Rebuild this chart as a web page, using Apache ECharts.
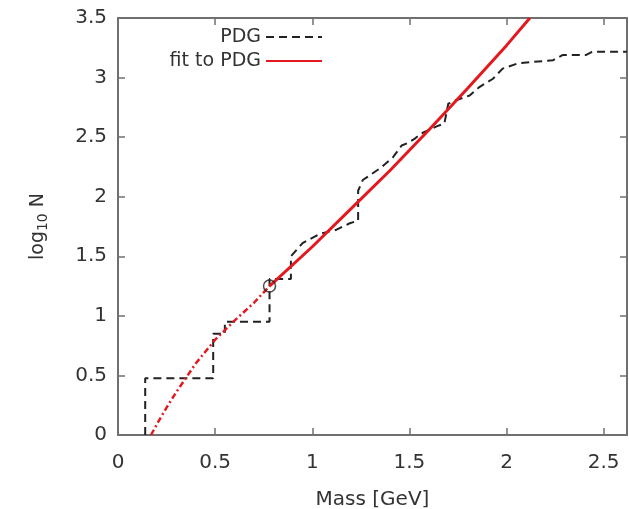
<!DOCTYPE html>
<html>
<head>
<meta charset="utf-8">
<title>log10 N vs Mass</title>
<script src="https://cdn.jsdelivr.net/npm/echarts@6.0.0/dist/echarts.min.js"></script>
<style>
    html, body { margin: 0; padding: 0; background: #fff; }
    #chart { width: 629px; height: 509px; }
</style>
</head>
<body>
<div id="chart"></div>
<script>
// PDG staircase (mass in GeV, log10 of cumulative number of states)
var pdgMass = [0.14, 0.14, 0.49, 0.49, 0.55, 0.55, 0.78, 0.78, 0.89, 0.89,
    0.95, 1.04, 1.12, 1.19, 1.236, 1.236, 1.26, 1.35, 1.415, 1.46,
    1.49, 1.53, 1.56, 1.64, 1.68, 1.70, 1.74, 1.81, 1.86, 1.93,
    1.98, 2.06, 2.24, 2.29, 2.41, 2.44, 2.62];
var pdgLogN = [0, 0.477, 0.477, 0.85, 0.85, 0.95, 0.95, 1.31, 1.31, 1.50,
    1.61, 1.69, 1.72, 1.775, 1.80, 2.05, 2.14, 2.24, 2.33, 2.43,
    2.45, 2.49, 2.53, 2.59, 2.615, 2.78, 2.81, 2.85, 2.92, 2.99,
    3.075, 3.12, 3.146, 3.19, 3.19, 3.216, 3.216];

// fit, fitted range (solid) and extrapolation below it (dash-dot)
var fitMass = [0.78, 1.0, 1.2, 1.4, 1.6, 1.8, 2.0, 2.12];
var fitLogN = [1.25, 1.58, 1.9, 2.22, 2.56, 2.91, 3.27, 3.5];
var fitLowMass = [0.17, 0.2, 0.25, 0.3, 0.35, 0.4, 0.5, 0.6, 0.7, 0.78];
var fitLowLogN = [0, 0.09, 0.23, 0.36, 0.48, 0.6, 0.8, 0.96, 1.11, 1.25];

// open circle marker
var markMass = [0.78];
var markLogN = [1.25];

var xTicks = [0, 2.62, 0.5];   // min, max, interval
var yTicks = [0, 3.5, 0.5];

function pairs(xs, ys) {
    var out = [];
    for (var i = 0; i < xs.length; i++) {
        out.push([xs[i], ys[i]]);
    }
    return out;
}

var FONT = 'DejaVu Sans';
var frameColor = '#707070';
var red = '#e3191f';

function frameAxis(pos, range, withLabels) {
    return {
        type: 'value',
        position: pos,
        min: range[0],
        max: range[1],
        interval: range[2],
        axisLine: {show: true, onZero: false, lineStyle: {color: frameColor, width: 2}},
        axisTick: {show: true, inside: true, length: 7, lineStyle: {color: frameColor, width: 1.5}},
        axisLabel: {
            show: withLabels,
            showMaxLabel: pos === 'bottom' ? false : true,
            fontFamily: FONT,
            fontSize: 20,
            color: '#333',
            margin: pos === 'bottom' ? 18 : 11
        },
        splitLine: {show: false}
    };
}

var chart = echarts.init(document.getElementById('chart'), null, {renderer: 'canvas'});

var xBottom = frameAxis('bottom', xTicks, true);
xBottom.name = 'Mass [GeV]';
xBottom.nameLocation = 'middle';
xBottom.nameGap = 55;
xBottom.nameTextStyle = {fontFamily: FONT, fontSize: 20, color: '#333'};

var yLeft = frameAxis('left', yTicks, true);
yLeft.name = '{a|log}{s|10}{a| N}';
yLeft.nameLocation = 'middle';
yLeft.nameGap = 68;
yLeft.nameTextStyle = {
    color: '#333',
    rich: {
        a: {fontFamily: FONT, fontSize: 19, color: '#333'},
        s: {fontFamily: FONT, fontSize: 14, color: '#333', padding: [10, 0, 0, 0]}
    }
};

var option = {
    animation: false,
    backgroundColor: '#fff',
    grid: {left: 118, right: 2, top: 18, bottom: 74, containLabel: false, outerBoundsMode: 'none'},
    legend: {
        orient: 'vertical',
        align: 'right',
        right: 306,
        top: 27,
        padding: 0,
        itemWidth: 56,
        itemHeight: 10,
        itemGap: 4,
        itemStyle: {color: 'rgba(0,0,0,0)', borderWidth: 0, opacity: 0},
        textStyle: {fontFamily: FONT, fontSize: 19, color: '#333', lineHeight: 20},
        data: ['PDG', 'fit to PDG']
    },
    xAxis: [xBottom, frameAxis('top', xTicks, false)],
    yAxis: [yLeft, frameAxis('right', yTicks, false)],
    series: [
        {
            name: 'PDG',
            type: 'line',
            data: pairs(pdgMass, pdgLogN),
            symbol: 'none',
            lineStyle: {color: '#222', width: 2, type: [8, 5]},
            itemStyle: {color: '#222'},
            z: 3
        },
        {
            name: 'fit to PDG',
            type: 'line',
            data: pairs(fitMass, fitLogN),
            symbol: 'none',
            lineStyle: {color: red, width: 3},
            itemStyle: {color: red},
            z: 4
        },
        {
            name: 'fit extrapolation',
            type: 'line',
            data: pairs(fitLowMass, fitLowLogN),
            symbol: 'none',
            lineStyle: {color: red, width: 2.5, type: [6, 3, 2, 3]},
            z: 4
        },
        {
            name: 'marker',
            type: 'scatter',
            data: pairs(markMass, markLogN),
            symbol: 'circle',
            symbolSize: 12,
            itemStyle: {color: 'rgba(0,0,0,0)', borderColor: '#222', borderWidth: 1.5},
            z: 5
        }
    ]
};

chart.setOption(option);
</script>
</body>
</html>
